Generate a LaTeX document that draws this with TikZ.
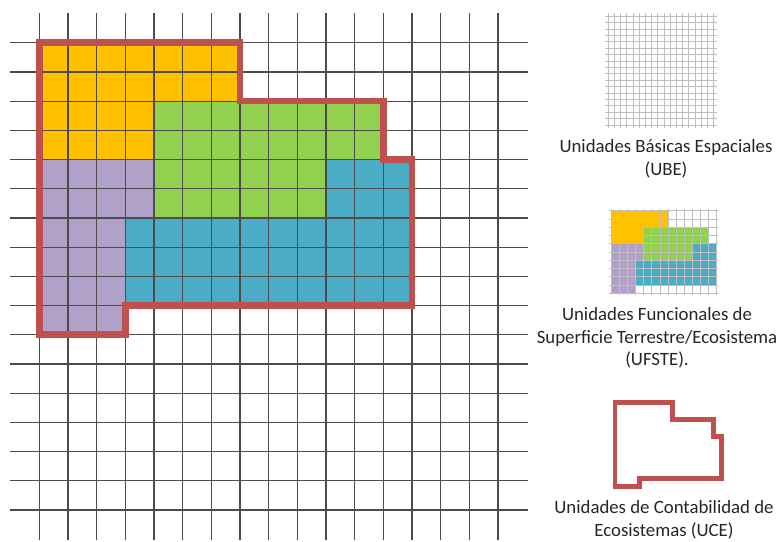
\documentclass[tikz,border=0pt]{standalone}
\usepackage{fontspec}
\setmainfont{Carlito}
\usepackage{xcolor}
\usetikzlibrary{positioning}

\definecolor{cellorange}{HTML}{FFC000}
\definecolor{cellgreen}{HTML}{92D050}
\definecolor{cellpurple}{HTML}{B1A0C7}
\definecolor{cellblue}{HTML}{4BACC6}
\definecolor{borderred}{HTML}{C0504D}

% the four functional units, in cell units
\newcommand{\ufstecells}{%
  \fill[cellorange] (0,0) -- (7,0) -- (7,2) -- (4,2) -- (4,4) -- (0,4) -- cycle;
  \fill[cellgreen] (4,2) -- (12,2) -- (12,4) -- (10,4) -- (10,6) -- (4,6) -- cycle;
  \fill[cellpurple] (0,4) -- (4,4) -- (4,6) -- (3,6) -- (3,10) -- (0,10) -- cycle;
  \fill[cellblue] (10,4) -- (13,4) -- (13,9) -- (3,9) -- (3,6) -- (10,6) -- cycle;
}
% outline of the accounting unit
\newcommand{\uceoutline}[1]{%
  \draw[#1] (0,0) -- (7,0) -- (7,2) -- (12,2) -- (12,4) -- (13,4) -- (13,9)
    -- (3,9) -- (3,10) -- (0,10) -- cycle;
}

\begin{document}
\begin{tikzpicture}[
    x=1pt, y=-1pt,
    font=\fontsize{18.8}{22.6}\selectfont,
    % Styles
    gridline/.style={
      draw=black!70,
      line width=1.2pt
    },
    minigrid/.style={
      draw=black!25,
      line width=0.5pt
    },
    border/.style={
      draw=borderred,
      line width=6.5pt
    },
    miniborder/.style={
      draw=borderred,
      line width=4.8pt
    },
    caption/.style={
      align=center,
      text=black!85,
      inner sep=0pt
    }
  ]

    % Page frame
    \useasboundingbox (0,0) rectangle (779,541);
    \clip (0,0) rectangle (779,541);

    % Main grid with units
    \begin{scope}[shift={(39.3,42.7)}, x=28.67pt, y=-29.2pt]
      \ufstecells
      \foreach \i in {0,...,16} {
        \draw[gridline] (\i,-1.02) -- (\i,17.03);
        \draw[gridline] (-1.02,\i) -- (17.05,\i);
      }
      \uceoutline{border}
    \end{scope}

    % Legend: basic spatial units
    \begin{scope}[shift={(608,16)}, x=6.2pt, y=-6.4pt]
      \foreach \i in {0,...,17} {
        \draw[minigrid] (\i,-0.5) -- (\i,17.5);
        \draw[minigrid] (-0.5,\i) -- (17.5,\i);
      }
    \end{scope}

    % Legend: functional units
    \begin{scope}[shift={(611,210.5)}, x=8.13pt, y=-8.25pt]
      \ufstecells
      \foreach \i in {0,...,13}
        \draw[minigrid] (\i,-0.2) -- (\i,10.2);
      \foreach \j in {0,...,10}
        \draw[minigrid] (-0.2,\j) -- (13.2,\j);
    \end{scope}

    % Legend: accounting units
    \begin{scope}[shift={(615,402.7)}, x=8.2pt, y=-8.4pt]
      \uceoutline{miniborder}
    \end{scope}

    % Captions
    \node (ube) [caption] at (666,159) {Unidades Básicas Espaciales\\(UBE)};
    \node (ufste) [caption] at (657,338) {Unidades Funcionales de\\Superficie Terrestre/Ecosistema\\(UFSTE).};
    \node (uce) [caption] at (664,520) {Unidades de Contabilidad de\\Ecosistemas (UCE)};

  \end{tikzpicture}
\end{document}
